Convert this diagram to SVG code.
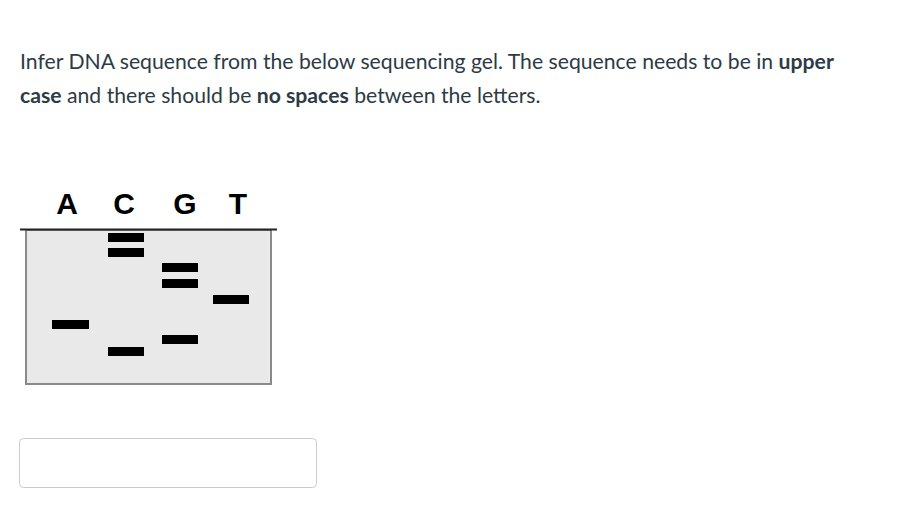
<svg xmlns="http://www.w3.org/2000/svg" width="922" height="518" viewBox="0 0 922 518">
<style>
.q{font-family:Lato,"Open Sans","Liberation Sans",sans-serif;font-size:21.2px;fill:#2d3b45}
.b{font-weight:bold}
.lbl{font-family:"Liberation Sans",Arial,sans-serif;font-weight:bold;font-size:30px;fill:#000;text-anchor:middle}
.band{fill:#000}
</style>
<rect width="922" height="518" fill="#fff"/>
<g id="question">
<text class="q" x="20" y="69">Infer DNA sequence from the below sequencing gel. The sequence needs to be in <tspan class="b">upper</tspan></text>
<text class="q" x="20" y="103"><tspan class="b">case</tspan> and there should be <tspan class="b">no spaces</tspan> between the letters.</text>
</g>
<g id="gel">
<rect x="26" y="230" width="245" height="154" fill="#e9e9e9" stroke="#8a8a8a" stroke-width="2"/>
<line x1="20" y1="229.5" x2="277" y2="229.5" stroke="#222" stroke-width="2"/>
<text class="lbl" x="67" y="214">A</text>
<text class="lbl" x="124" y="214">C</text>
<text class="lbl" x="185" y="214">G</text>
<text class="lbl" x="238" y="214">T</text>
<rect class="band" x="108" y="233" width="36" height="9"/>
<rect class="band" x="108" y="248" width="36" height="9"/>
<rect class="band" x="162" y="263" width="36" height="9"/>
<rect class="band" x="162" y="279" width="36" height="9"/>
<rect class="band" x="213" y="295" width="36" height="9"/>
<rect class="band" x="52" y="320" width="37" height="9"/>
<rect class="band" x="162" y="335" width="36" height="9"/>
<rect class="band" x="108" y="347" width="36" height="9"/>
</g>
<g id="answer">
<rect x="19.5" y="438.5" width="297" height="49" rx="4" fill="#fff" stroke="#c7cdd1" stroke-width="1"/>
</g>
</svg>
